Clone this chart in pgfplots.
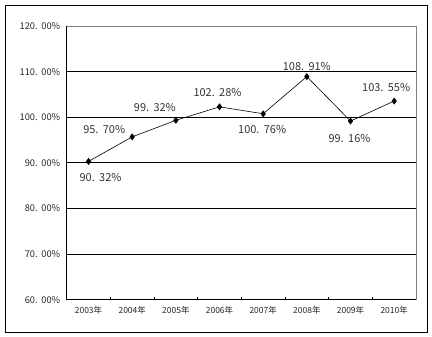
\documentclass[border=0pt]{standalone}
\usepackage{pgfplots}
\pgfplotsset{compat=1.18}
\usepackage{fontspec}
\setmainfont{Noto Sans CJK SC}
\begin{document}
\begin{tikzpicture}[x=1bp,y=1bp]
\useasboundingbox (0,0) rectangle (432,337);
\draw[black, line width=0.9bp] (5,5) rectangle (427,332);
\begin{axis}[
  at={(66.7bp,37.3bp)}, anchor=south west,
  scale only axis, width=349.3bp, height=273.7bp,
  xmin=-0.5, xmax=7.5, ymin=60, ymax=120,
  xtick={0,...,7},
  xticklabels={2003年,2004年,2005年,2006年,2007年,2008年,2009年,2010年},
  minor xtick={0.5,1.5,...,6.5},
  ytick={60,70,...,120},
  major tick length=0pt, minor tick length=2.5bp, tick align=inside,
  minor tick style={black, line width=0.6bp},
  ymajorgrids, grid style={black, line width=0.8bp},
  axis x line*=bottom, axis y line*=left,
  axis line style={black, line width=0.9bp, -},
  yticklabel={\pgfmathprintnumber[fixed,fixed zerofill,precision=2,dec sep={.\hspace{0.4em}}]{\tick}\%},
  /pgf/number format/assume math mode=true,
  yticklabel style={font=\fontsize{9.3}{11}\selectfont, text=black!85},
  xticklabel style={font=\fontsize{8.5}{10}\selectfont, text=black!85},
  y tick label style={xshift=-3bp},
  x tick label style={yshift=-3bp},
  clip=false,
]
\addplot[black, line width=0.6bp, mark=diamond*, mark size=3bp,
  mark options={fill=black},
  point meta=explicit,
  visualization depends on={\thisrow{dx} \as \dx},
  visualization depends on={\thisrow{dy} \as \dy},
  nodes near coords={\pgfmathprintnumber[fixed,fixed zerofill,precision=2,dec sep={.\hspace{0.4em}},assume math mode=true]{\pgfplotspointmeta}\%},
  every node near coord/.append style={anchor=center, xshift=\dx bp, yshift=\dy bp,
     font=\fontsize{11}{13}\selectfont, text=black!80},
] table[x=x, y=y, meta=y] {
x y dx dy
0 90.32 12 -16
1 95.70 -28 7
2 99.32 -21 13
3 102.28 -2 14
4 100.76 -1 -16
5 108.91 0 10
6 99.16 -1 -17
7 103.55 -8 14
};
\draw[gray, line width=0.8bp] (rel axis cs:0,1) -- (rel axis cs:1,1) -- (rel axis cs:1,0);
\end{axis}
\end{tikzpicture}
\end{document}
